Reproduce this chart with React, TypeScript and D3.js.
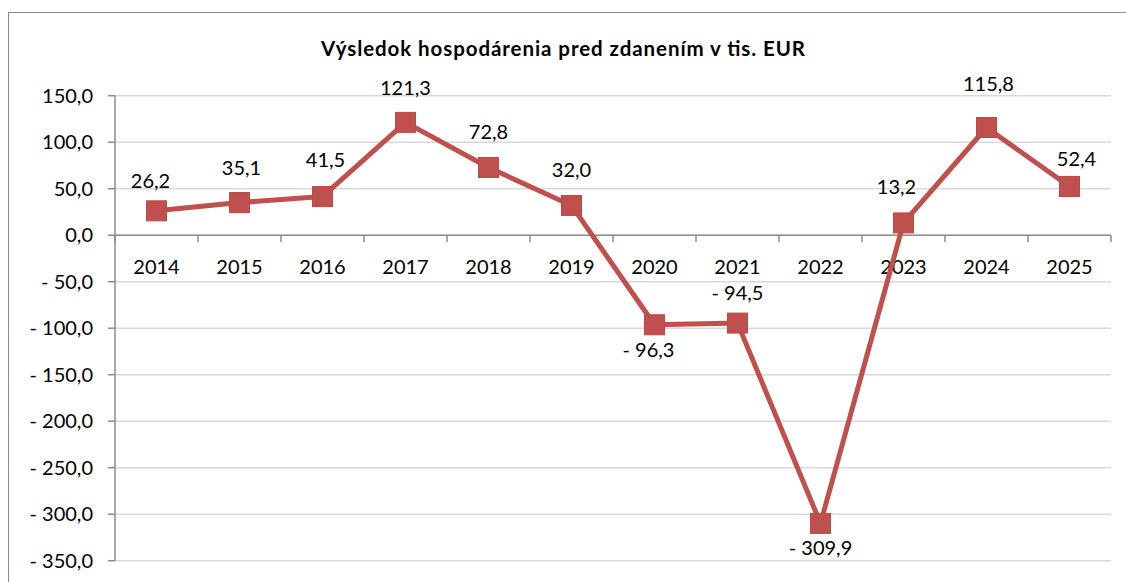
import React from "react";
import * as d3 from "d3";

const years = ["2014", "2015", "2016", "2017", "2018", "2019", "2020", "2021", "2022", "2023", "2024", "2025"];
const values = [26.2, 35.1, 41.5, 121.3, 72.8, 32.0, -96.3, -94.5, -309.9, 13.2, 115.8, 52.4];
const yTicks = [150, 100, 50, 0, -50, -100, -150, -200, -250, -300, -350];
const labelBelow = [false, false, false, false, false, false, true, false, true, false, false, false];
// small manual nudges of data labels (dx, dy) as in the original
const labelNudgeX = [-6, 2, 3, 0, 0, 0, -6, 0, 0, -7, 2, 7];
const labelNudgeY = [5, 0, -2, 1, 0, 0, 0, 5, 0, -1, -9, 8];

const title = "Výsledok hospodárenia pred zdanením v tis. EUR";

const W = 1126;
const H = 582;
const left = 115;
const right = 1111;
const top = 95.7;
const bottom = 560.7;
const FONT = "Lato, 'Open Sans', sans-serif";
const RED = "#C0504D";

const fmt = (v: number) => {
  const s = Math.abs(v).toFixed(1).replace(".", ",");
  return v < 0 ? "- " + s : s;
};

export default function App() {
  const x = d3.scaleBand<string>().domain(years).range([left, right]).padding(0);
  const y = d3.scaleLinear().domain([-350, 150]).range([bottom, top]);
  const cx = (i: number) => (x(years[i]) as number) + x.bandwidth() / 2;
  const line = d3
    .line<number>()
    .x((_, i) => cx(i))
    .y((d) => y(d));
  const y0 = y(0);
  const boundaries = years.map((yr) => x(yr) as number).concat([right]);

  return (
    <div style={{ position: "absolute", left: 0, top: 0, width: W, height: H, background: "#fff" }}>
      <svg width={W} height={H} style={{ display: "block" }}>
        <rect x={8.5} y={12.5} width={1200} height={700} fill="#fff" stroke="#8c8c8c" strokeWidth={1} />
        <text
          x={321}
          y={56}
          textAnchor="start"
          fontFamily={FONT}
          fontWeight={700}
          fontSize={20.5}
          textLength={484}
          lengthAdjust="spacing"
          fill="#000"
        >
          {title}
        </text>
        {yTicks.map((t) => (
          <g key={t}>
            <line x1={left} x2={right} y1={y(t)} y2={y(t)} stroke="#d9d9d9" strokeWidth={1.5} />
            <line x1={108} x2={left} y1={y(t)} y2={y(t)} stroke="#8c8c8c" strokeWidth={1.5} />
            <text x={93} y={y(t) + 7} textAnchor="end" fontFamily={FONT} fontSize={20} fill="#000">
              {fmt(t)}
            </text>
          </g>
        ))}
        <line x1={left} x2={left} y1={top} y2={bottom} stroke="#8c8c8c" strokeWidth={1.5} />
        <line x1={left} x2={right} y1={y0} y2={y0} stroke="#8c8c8c" strokeWidth={1.5} />
        {boundaries.map((b, i) => (
          <line key={i} x1={b} x2={b} y1={y0} y2={y0 + 7} stroke="#8c8c8c" strokeWidth={1.5} />
        ))}
        {years.map((yr, i) => (
          <text key={yr} x={cx(i)} y={y0 + 39} textAnchor="middle" fontFamily={FONT} fontSize={20} fill="#000">
            {yr}
          </text>
        ))}
        <path d={line(values) as string} fill="none" stroke={RED} strokeWidth={5} strokeLinejoin="round" />
        {values.map((v, i) => (
          <rect key={i} x={cx(i) - 10} y={y(v) - 10} width={20} height={20} fill={RED} stroke="#b94a47" strokeWidth={1} />
        ))}
        {values.map((v, i) => (
          <text
            key={"l" + i}
            x={cx(i) + labelNudgeX[i]}
            y={y(v) + (labelBelow[i] ? 32 : -28) + labelNudgeY[i]}
            textAnchor="middle"
            fontFamily={FONT}
            fontSize={20}
            fill="#000"
          >
            {fmt(v)}
          </text>
        ))}
      </svg>
    </div>
  );
}
